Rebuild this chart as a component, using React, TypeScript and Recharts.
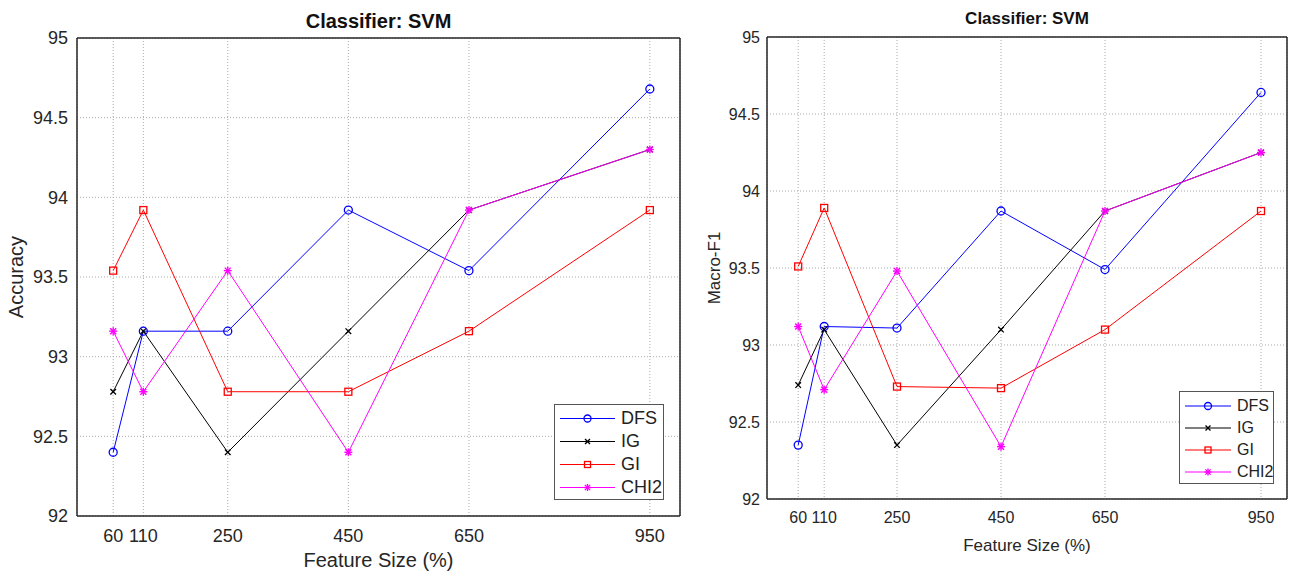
import { LineChart, Line, XAxis, YAxis, CartesianGrid, ReferenceLine } from "recharts"

const featureSizes = [60, 110, 250, 450, 650, 950]
const yTicks = [92, 92.5, 93, 93.5, 94, 94.5, 95]

// Accuracy panel
const accDFS = [92.4, 93.16, 93.16, 93.92, 93.54, 94.68]
const accIG = [92.78, 93.16, 92.4, 93.16, 93.92, 94.3]
const accGI = [93.54, 93.92, 92.78, 92.78, 93.16, 93.92]
const accCHI2 = [93.16, 92.78, 93.54, 92.4, 93.92, 94.3]

// Macro-F1 panel
const f1DFS = [92.35, 93.12, 93.11, 93.87, 93.49, 94.64]
const f1IG = [92.74, 93.1, 92.35, 93.1, 93.87, 94.25]
const f1GI = [93.51, 93.89, 92.73, 92.72, 93.1, 93.87]
const f1CHI2 = [93.12, 92.71, 93.48, 92.34, 93.87, 94.25]

const series = [
  { key: "DFS", color: "#0000ff", marker: "circle" },
  { key: "IG", color: "#000000", marker: "cross" },
  { key: "GI", color: "#ff0000", marker: "square" },
  { key: "CHI2", color: "#ff00ff", marker: "star" },
]

const buildRows = (dfs: number[], ig: number[], gi: number[], chi: number[]) =>
  featureSizes.map((size, i) => ({ size, DFS: dfs[i], IG: ig[i], GI: gi[i], CHI2: chi[i] }))

const accRows = buildRows(accDFS, accIG, accGI, accCHI2)
const f1Rows = buildRows(f1DFS, f1IG, f1GI, f1CHI2)

const axisColor = "#262626"
const font = "'Liberation Sans', Arial, sans-serif"

function Marker({ type, cx, cy, color, s }: { type: string; cx: number; cy: number; color: string; s: number }) {
  if (type === "circle") return <circle cx={cx} cy={cy} r={s} fill="none" stroke={color} strokeWidth={1.3} />
  if (type === "square")
    return <rect x={cx - s + 0.5} y={cy - s + 0.5} width={2 * s - 1} height={2 * s - 1} fill="none" stroke={color} strokeWidth={1.3} />
  if (type === "cross") {
    const d = s * 0.7
    return (
      <g stroke={color} strokeWidth={1.3}>
        <line x1={cx - d} y1={cy - d} x2={cx + d} y2={cy + d} />
        <line x1={cx - d} y1={cy + d} x2={cx + d} y2={cy - d} />
      </g>
    )
  }
  const d = s * 0.75
  return (
    <g stroke={color} strokeWidth={1.4}>
      <line x1={cx} y1={cy - s} x2={cx} y2={cy + s} />
      <line x1={cx - s} y1={cy} x2={cx + s} y2={cy} />
      <line x1={cx - d} y1={cy - d} x2={cx + d} y2={cy + d} />
      <line x1={cx - d} y1={cy + d} x2={cx + d} y2={cy - d} />
    </g>
  )
}

type PanelProps = {
  left: number
  width: number
  rows: any[]
  title: string
  yLabel: string
  top: number
  bottom: number
  right: number
  xAxisHeight: number
  tickSize: number
  titleSize: number
  labelSize: number
  yLabelOffset: number
  xLabelOffset: number
  xTickGap: number
  yTickGap: number
  legend: { x: number; y: number; w: number; h: number; rowH: number; pad: number; lineW: number; fs: number }
}

function Panel(p: PanelProps) {
  const plotLeft = 77
  const plotRight = p.width - p.right
  const lg = p.legend
  return (
    <div style={{ position: "absolute", left: p.left, top: 0, width: p.width, height: 572 }}>
      <div
        style={{
          position: "absolute",
          left: plotLeft,
          width: plotRight - plotLeft,
          top: p.top - 28,
          textAlign: "center",
          fontWeight: "bold",
          fontSize: p.titleSize,
          color: "#111",
        }}
      >
        {p.title}
      </div>
      <LineChart width={p.width} height={572} data={p.rows} margin={{ top: p.top, right: p.right, left: 7, bottom: p.bottom }}>
        <CartesianGrid stroke="#aaaaaa" strokeDasharray="1 2" />
        <XAxis
          dataKey="size"
          type="number"
          domain={[0, 1000]}
          ticks={featureSizes}
          height={p.xAxisHeight}
          tickSize={0}
          tickMargin={p.xTickGap}
          tickLine={false}
          axisLine={{ stroke: axisColor, strokeWidth: 1.5 }}
          tick={{ fontSize: p.tickSize, fill: axisColor }}
          label={{ value: "Feature Size (%)", position: "insideBottom", offset: p.xLabelOffset, fontSize: p.labelSize, fill: axisColor }}
        />
        <YAxis
          type="number"
          domain={[92, 95]}
          ticks={yTicks}
          width={70}
          tickSize={0}
          tickMargin={p.yTickGap}
          tickLine={false}
          axisLine={{ stroke: axisColor, strokeWidth: 1.5 }}
          tick={{ fontSize: p.tickSize, fill: axisColor }}
          label={{
            value: p.yLabel,
            angle: -90,
            position: "insideLeft",
            offset: p.yLabelOffset,
            fontSize: p.labelSize,
            fill: axisColor,
            style: { textAnchor: "middle" },
          }}
        />
        <ReferenceLine y={95} stroke={axisColor} strokeWidth={1.5} />
        <ReferenceLine x={1000} stroke={axisColor} strokeWidth={1.5} />
        {series.map((s) => (
          <Line
            key={s.key}
            dataKey={s.key}
            stroke={s.color}
            strokeWidth={1}
            isAnimationActive={false}
            dot={(d: any) => <Marker key={d.index} type={s.marker} cx={d.cx} cy={d.cy} color={s.color} s={4} />}
            activeDot={false}
          />
        ))}
      </LineChart>
      <div
        style={{
          position: "absolute",
          left: lg.x,
          top: lg.y,
          width: lg.w,
          height: lg.h,
          boxSizing: "border-box",
          border: "1.5px solid #555",
          background: "#fff",
          paddingTop: lg.pad,
        }}
      >
        {series.map((s) => (
          <div key={s.key} style={{ height: lg.rowH, display: "flex", alignItems: "center", fontSize: lg.fs, color: "#222" }}>
            <svg width={lg.lineW + 10} height={lg.rowH} style={{ flex: "none" }}>
              <line x1={5} x2={lg.lineW + 5} y1={lg.rowH / 2} y2={lg.rowH / 2} stroke={s.color} strokeWidth={1.2} />
              <Marker type={s.marker} cx={lg.lineW / 2 + 5} cy={lg.rowH / 2} color={s.color} s={3.5} />
            </svg>
            <span style={{ marginLeft: 1 }}>{s.key}</span>
          </div>
        ))}
      </div>
    </div>
  )
}

export default function App() {
  return (
    <div style={{ position: "absolute", left: 0, top: 0, width: 1290, height: 572, background: "#fff", fontFamily: font }}>
      <Panel
        left={0}
        width={690}
        rows={accRows}
        title="Classifier: SVM"
        yLabel="Accuracy"
        top={38}
        bottom={0}
        right={10}
        xAxisHeight={56}
        tickSize={18}
        titleSize={20}
        labelSize={20}
        yLabelOffset={9}
        xLabelOffset={5}
        xTickGap={13}
        yTickGap={9}
        legend={{ x: 554, y: 404, w: 110, h: 96, rowH: 23, pad: 2, lineW: 55, fs: 18 }}
      />
      <Panel
        left={690}
        width={600}
        rows={f1Rows}
        title="Classifier: SVM"
        yLabel="Macro-F1"
        top={37}
        bottom={18}
        right={3}
        xAxisHeight={55}
        tickSize={16}
        titleSize={17}
        labelSize={17}
        yLabelOffset={17}
        xLabelOffset={3}
        xTickGap={13}
        yTickGap={7}
        legend={{ x: 489, y: 391, w: 95, h: 93, rowH: 22, pad: 3, lineW: 46, fs: 16 }}
      />
    </div>
  )
}
